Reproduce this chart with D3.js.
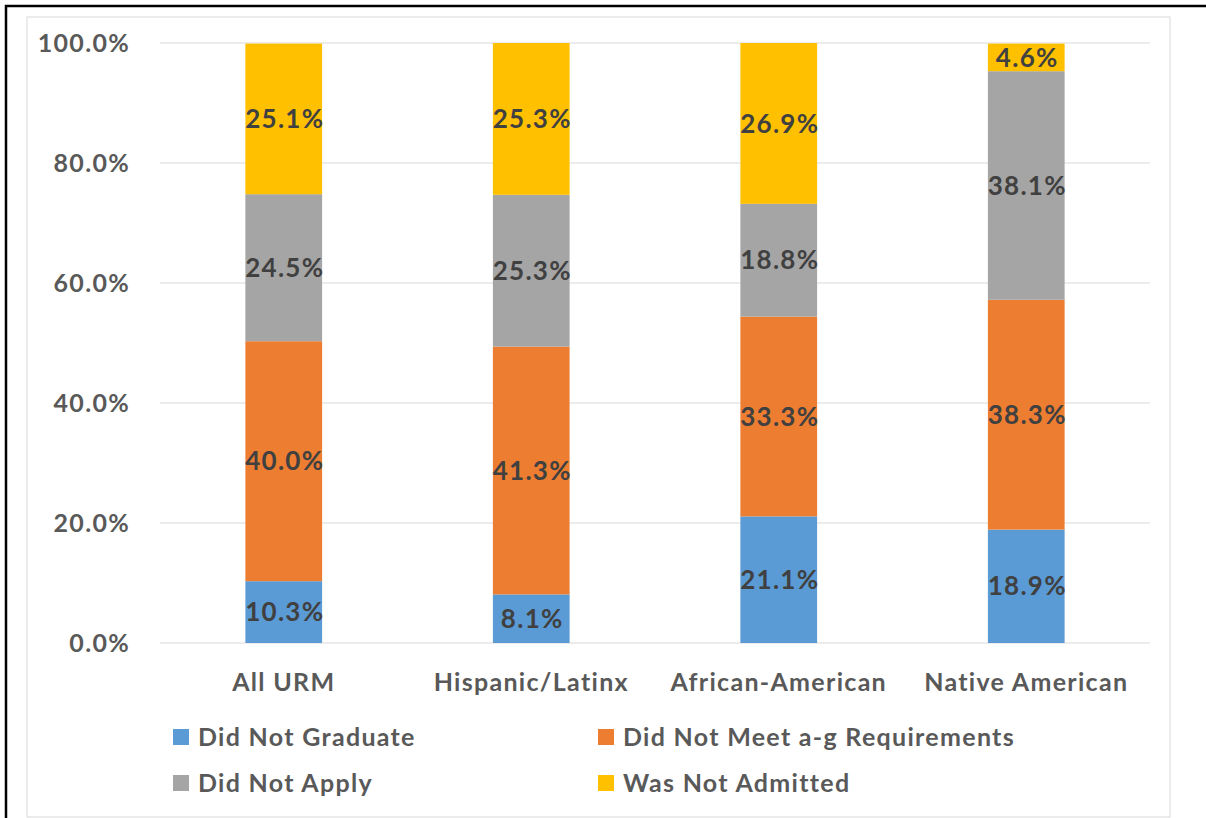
<!DOCTYPE html>
<html><head><meta charset="utf-8">
<script src="https://cdn.jsdelivr.net/npm/d3@7"></script>
<style>body{margin:0;background:#fff;} svg{display:block;} text{font-family:Lato, "Open Sans", sans-serif;font-weight:bold;letter-spacing:1.3px;}</style>
</head><body><svg id="c" width="1206" height="818"></svg>
<script>
const categories = ["All URM", "Hispanic/Latinx", "African-American", "Native American"];
const seriesNames = ["Did Not Graduate", "Did Not Meet a-g Requirements", "Did Not Apply", "Was Not Admitted"];
const didNotGraduate = [10.3, 8.1, 21.1, 18.9];
const didNotMeetAg = [40.0, 41.3, 33.3, 38.3];
const didNotApply = [24.5, 25.3, 18.8, 38.1];
const wasNotAdmitted = [25.1, 25.3, 26.9, 4.6];
const yTicks = [0, 20, 40, 60, 80, 100];
const colors = ["#5B9BD5", "#ED7D31", "#A5A5A5", "#FFC000"];

const seriesValues = [didNotGraduate, didNotMeetAg, didNotApply, wasNotAdmitted];
const rows = categories.map((c, i) => {
  const r = {cat: c};
  seriesNames.forEach((s, j) => r[s] = seriesValues[j][i]);
  return r;
});

const svg = d3.select("#c");
svg.append("rect").attr("x", 6).attr("y", 6).attr("width", 1206).attr("height", 830)
  .attr("fill", "none").attr("stroke", "#000").attr("stroke-width", 2.5);
svg.append("rect").attr("x", 27).attr("y", 17).attr("width", 1143).attr("height", 800)
  .attr("fill", "#fff").attr("stroke", "#d9d9d9").attr("stroke-width", 1);

const L = 160, R = 1150, T = 43, B = 643;
const x = d3.scaleBand().domain(categories).range([L, R]).paddingInner(0.69).paddingOuter(0.345);
const y = d3.scaleLinear().domain([0, 100]).range([B, T]);

const grid = svg.append("g");
yTicks.forEach(t => {
  grid.append("line").attr("x1", L).attr("x2", R).attr("y1", y(t)).attr("y2", y(t))
    .attr("stroke", "#d9d9d9").attr("stroke-width", 1);
});

const yAxis = svg.append("g").attr("transform", `translate(${L - 27},0)`)
  .call(d3.axisLeft(y).tickValues(yTicks).tickSize(0).tickFormat(d => d3.format(".1f")(d) + "%"));
yAxis.select(".domain").remove();
yAxis.selectAll("text").attr("font-size", 25).attr("fill", "#595959").attr("dy", "0.35em")
  .style("font-family", "Lato, sans-serif").style("font-weight", "bold");

const stack = d3.stack().keys(seriesNames)(rows);
const layers = svg.append("g").selectAll("g").data(stack).join("g")
  .attr("fill", (d, i) => colors[i]);
layers.selectAll("rect").data(d => d).join("rect")
  .attr("x", d => x(d.data.cat)).attr("width", x.bandwidth())
  .attr("y", d => y(Math.min(d[1], 100))).attr("height", d => y(d[0]) - y(Math.min(d[1], 100)));

const labels = svg.append("g").selectAll("g").data(stack).join("g");
labels.selectAll("text").data(d => d.map(v => ({v, key: d.key}))).join("text")
  .attr("x", d => x(d.v.data.cat) + x.bandwidth() / 2 + 1)
  .attr("y", d => y((d.v[0] + Math.min(d.v[1], 100)) / 2))
  .attr("dy", "0.35em").attr("text-anchor", "middle")
  .attr("font-size", 26).attr("fill", "#404040")
  .text(d => d3.format(".1f")(d.v.data[d.key]) + "%");

const xAxis = svg.append("g").attr("transform", `translate(0,${B})`)
  .call(d3.axisBottom(x).tickSize(0).tickPadding(30));
xAxis.select(".domain").remove();
xAxis.selectAll("text").attr("font-size", 25).attr("fill", "#595959")
  .style("font-family", "Lato, sans-serif").style("font-weight", "bold");

const legendPos = [[173, 737], [598, 737], [173, 783], [598, 783]];
const lg = svg.append("g").selectAll("g").data(seriesNames).join("g")
  .attr("transform", (d, i) => `translate(${legendPos[i][0]},${legendPos[i][1]})`);
lg.append("rect").attr("x", 0).attr("y", -8).attr("width", 16).attr("height", 16)
  .attr("fill", (d, i) => colors[i]);
lg.append("text").attr("x", 25).attr("dy", "0.35em").attr("font-size", 25).attr("fill", "#595959")
  .text(d => d);
</script></body></html>
